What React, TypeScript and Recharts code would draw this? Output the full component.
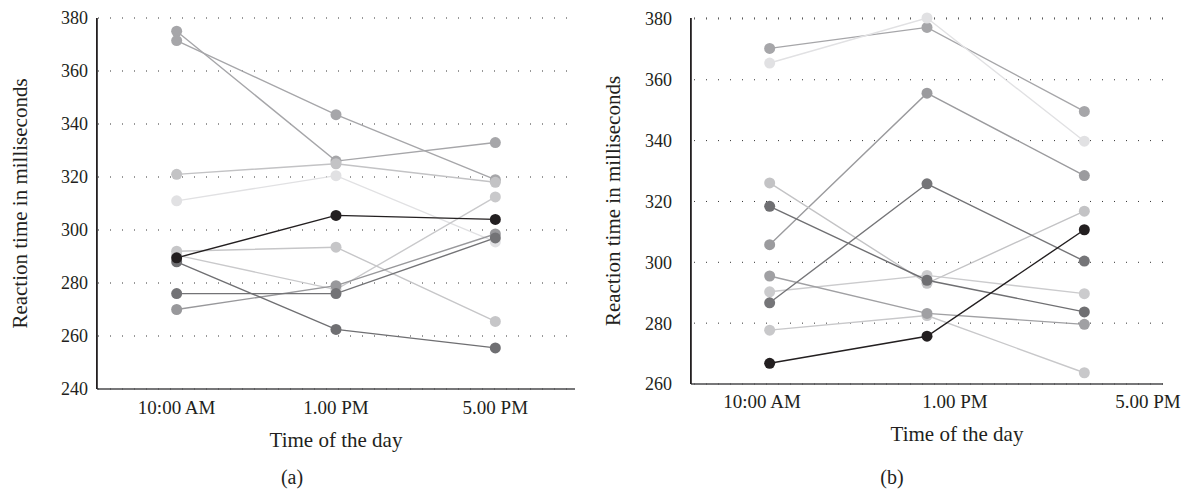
import React from 'react';
import { LineChart, Line, XAxis, YAxis, CartesianGrid, Label } from 'recharts';

const categories = ['10:00 AM', '1.00 PM', '5.00 PM'];
const categoryIndex = [0, 1, 2];
const yTicksA = [240, 260, 280, 300, 320, 340, 360, 380];
const yTicksB = [260, 280, 300, 320, 340, 360, 380];

// Panel (a) participants: values at 10:00 AM, 1.00 PM, 5.00 PM
const a01 = [375, 326, 333];
const a02 = [371.5, 343.5, 319];
const a03 = [321, 325, 318];
const a04 = [311, 320.5, 295.5];
const a05 = [292, 293.5, 265.5];
const a06 = [290.5, 277.5, 312.5];
const a07 = [270, 279, 298.5];
const a08 = [276, 276, 297];
const a09 = [288, 262.5, 255.5];
const a10 = [289.5, 305.5, 304];

// Panel (b) participants
const b01 = [370.3, 377.2, 349.6];
const b02 = [365.5, 380.3, 339.8];
const b03 = [305.8, 355.6, 328.5];
const b04 = [326.1, 293.1, 316.8];
const b05 = [290.3, 295.7, 289.7];
const b06 = [277.7, 282.5, 263.7];
const b07 = [295.5, 283.2, 279.6];
const b08 = [318.4, 294.1, 283.7];
const b09 = [286.7, 325.8, 300.4];
const b10 = [266.8, 275.7, 310.7];

const seriesA = [a01, a02, a03, a04, a05, a06, a07, a08, a09, a10];
const seriesB = [b01, b02, b03, b04, b05, b06, b07, b08, b09, b10];

const colorsA = ['#a6a6a9', '#a6a6a9', '#c3c3c5', '#e1e1e3', '#c6c6c8', '#c9c9cb', '#98989b', '#737376', '#6f6f72', '#231f20'];
const colorsB = ['#a6a6a9', '#e1e1e3', '#9b9b9e', '#c3c3c5', '#cbcbcd', '#c8c8ca', '#a0a0a3', '#6f6f72', '#757578', '#231f20'];

const FONT = "'Liberation Serif', 'DejaVu Serif', serif";
const INK = '#231f20';

function buildRows(series: number[][]) {
  return categoryIndex.map((x) => {
    const row: Record<string, number> = { x };
    series.forEach((s, k) => {
      row['s' + k] = s[x];
    });
    return row;
  });
}

const rowsA = buildRows(seriesA);
const rowsB = buildRows(seriesB);

const yTitle = (dxFromLeft: number) => (props: any) => {
  const vb = props.viewBox || {};
  const x = vb.x + dxFromLeft;
  const y = vb.y + vb.height / 2;
  return (
    <text
      x={x}
      y={y}
      transform={`rotate(-90, ${x}, ${y})`}
      textAnchor="middle"
      dominantBaseline="central"
      fill={INK}
      fontSize={21}
      fontFamily={FONT}
    >
      Reaction time in milliseconds
    </text>
  );
};

const xTitle = (dx: number, dy: number) => (props: any) => {
  const vb = props.viewBox || {};
  return (
    <text
      x={vb.x + vb.width / 2 + dx}
      y={vb.y + dy}
      textAnchor="middle"
      fill={INK}
      fontSize={21}
      fontFamily={FONT}
    >
      Time of the day
    </text>
  );
};

const captionStyle: React.CSSProperties = {
  position: 'absolute',
  width: 60,
  textAlign: 'center',
  fontFamily: FONT,
  fontSize: 20,
  lineHeight: '20px',
  color: INK,
  top: 467,
};

const axisRule: React.CSSProperties = {
  position: 'absolute',
  width: 0,
  borderLeft: `1.6px solid ${INK}`,
  zIndex: 5,
  pointerEvents: 'none',
};

export default function App() {
  return (
    <div style={{ position: 'absolute', left: 0, top: 0, width: 1187, height: 489, background: '#fff' }}>
      <div style={{ position: 'absolute', left: 0, top: 0 }}>
        <LineChart width={590} height={489} data={rowsA} margin={{ top: 18, right: 15, left: 0, bottom: 40 }}>
          <CartesianGrid horizontal vertical={false} stroke="#333" strokeDasharray="1 11" strokeDashoffset={-1} />
          <XAxis
            type="number"
            dataKey="x"
            domain={[-0.5, 2.5]}
            ticks={categoryIndex}
            tickFormatter={(v: number) => categories[v]}
            interval={0}
            allowDataOverflow
            height={60}
            tickLine={false}
            tickMargin={6}
            axisLine={{ stroke: '#4a4a4c', strokeWidth: 1.5 }}
            tick={{ fill: INK, fontSize: 19, fontFamily: FONT }}
          >
            <Label content={xTitle(0, 58)} />
          </XAxis>
          <YAxis
            type="number"
            domain={[240, 380]}
            ticks={yTicksA}
            interval={0}
            width={97}
            tickLine={false}
            tickMargin={3}
            axisLine={{ stroke: INK, strokeWidth: 1.6 }}
            tick={{ fill: INK, fontSize: 18, fontFamily: FONT }}
          >
            <Label content={yTitle(20)} />
          </YAxis>
          {seriesA.map((_, k) => (
            <Line
              key={k}
              type="linear"
              dataKey={'s' + k}
              stroke={colorsA[k]}
              strokeWidth={1.4}
              dot={{ r: 5.5, fill: colorsA[k], stroke: colorsA[k], strokeWidth: 0 }}
              activeDot={false}
              isAnimationActive={false}
            />
          ))}
        </LineChart>
      </div>
      <div style={{ position: 'absolute', left: 600, top: 0 }}>
        <LineChart width={587} height={489} data={rowsB} margin={{ top: 18, right: 24, left: 0, bottom: 45 }}>
          <CartesianGrid horizontal vertical={false} stroke="#333" strokeDasharray="1 11" strokeDashoffset={-3} xAxisId="d" />
          <XAxis xAxisId="d" type="number" dataKey="x" domain={[-0.5, 2.5]} allowDataOverflow hide height={0} />
          <XAxis
            xAxisId="l"
            type="number"
            dataKey="x"
            domain={[-0.368, 2.078]}
            ticks={categoryIndex}
            tickFormatter={(v: number) => categories[v]}
            interval={0}
            allowDataOverflow
            height={60}
            tickLine={false}
            tickMargin={5}
            axisLine={{ stroke: '#4a4a4c', strokeWidth: 1.5 }}
            tick={{ fill: INK, fontSize: 19, fontFamily: FONT }}
          >
            <Label content={xTitle(30, 57)} />
          </XAxis>
          <YAxis
            type="number"
            domain={[260, 380]}
            ticks={yTicksB}
            interval={0}
            width={91}
            tickLine={false}
            tickMargin={13}
            axisLine={{ stroke: INK, strokeWidth: 1.6 }}
            tick={{ fill: INK, fontSize: 18, fontFamily: FONT }}
          >
            <Label content={yTitle(12.5)} />
          </YAxis>
          {seriesB.map((_, k) => (
            <Line
              key={k}
              xAxisId="d"
              type="linear"
              dataKey={'s' + k}
              stroke={colorsB[k]}
              strokeWidth={1.4}
              dot={{ r: 5.5, fill: colorsB[k], stroke: colorsB[k], strokeWidth: 0 }}
              activeDot={false}
              isAnimationActive={false}
            />
          ))}
        </LineChart>
      </div>
      <div style={{ ...axisRule, left: 96.2, top: 18, height: 371 }} />
      <div style={{ ...axisRule, left: 690.2, top: 18, height: 366 }} />
      <div style={{ ...captionStyle, left: 262 }}>(a)</div>
      <div style={{ ...captionStyle, left: 862 }}>(b)</div>
    </div>
  );
}
